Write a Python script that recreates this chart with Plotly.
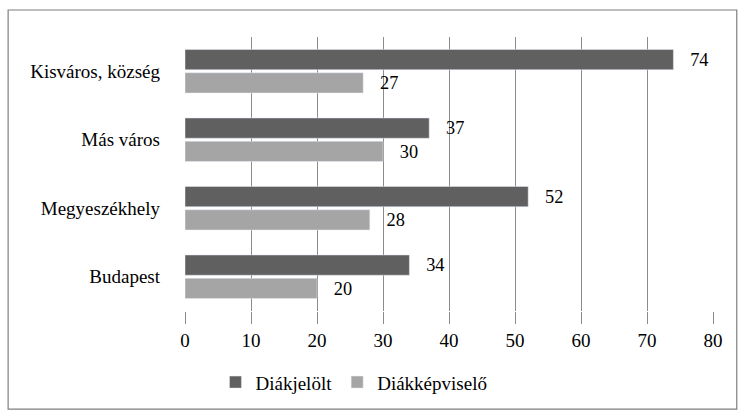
import plotly.graph_objects as go

categories = ["Kisváros, község", "Más város", "Megyeszékhely", "Budapest"]
diakjelolt = [74, 37, 52, 34]
diakkepviselo = [27, 30, 28, 20]
series_names = ["Diákjelölt", "Diákképviselő"]
x_ticks = [0, 10, 20, 30, 40, 50, 60, 70, 80]

FONT = "'Liberation Serif', 'DejaVu Serif', 'Times New Roman', serif"
FS = 19

fig = go.Figure()
fig.add_trace(go.Bar(
    y=categories, x=diakjelolt, name=series_names[0], orientation="h",
    marker=dict(color="#606060"), text=diakjelolt, texttemplate="   %{x}", textposition="outside",
    textfont=dict(family=FONT, size=FS, color="#000000"), cliponaxis=False,
))
fig.add_trace(go.Bar(
    y=categories, x=diakkepviselo, name=series_names[1], orientation="h",
    marker=dict(color="#a5a5a5"), text=diakkepviselo, texttemplate="   %{x}", textposition="outside",
    textfont=dict(family=FONT, size=FS, color="#000000"), cliponaxis=False,
))

fig.update_layout(
    width=744, height=419,
    margin=dict(l=185, r=31, t=37, b=108),
    paper_bgcolor="white", plot_bgcolor="white",
    font=dict(family=FONT, size=FS, color="#000000"),
    barmode="group", bargap=0.32, bargroupgap=0.13,
    showlegend=True,
    legend=dict(orientation="h", x=0.32, xanchor="center", y=-0.26, yanchor="middle",
                font=dict(family=FONT, size=FS), itemwidth=30, traceorder="normal"),
    xaxis=dict(range=[0, 80], tickvals=x_ticks, showgrid=True, gridcolor="#8c8c8c", gridwidth=1.3,
               zeroline=False, ticks="outside", ticklen=12, tickcolor="#8c8c8c", tickwidth=1.3,
               showline=False, tickfont=dict(family=FONT, size=FS)),
    yaxis=dict(autorange="reversed", showgrid=False, zeroline=False, showline=False,
               ticks="", ticklabelstandoff=24, tickfont=dict(family=FONT, size=FS)),
    shapes=[dict(type="rect", xref="paper", yref="paper", x0=-0.335, x1=1.045, y0=-0.358, y1=1.0985,
                 line=dict(color="#7f7f7f", width=1.2), fillcolor="rgba(0,0,0,0)", layer="below")],
)

fig.write_html("out.html", config={"displayModeBar": False},
               post_script="document.body.style.margin='0';document.body.style.overflow='hidden';")
